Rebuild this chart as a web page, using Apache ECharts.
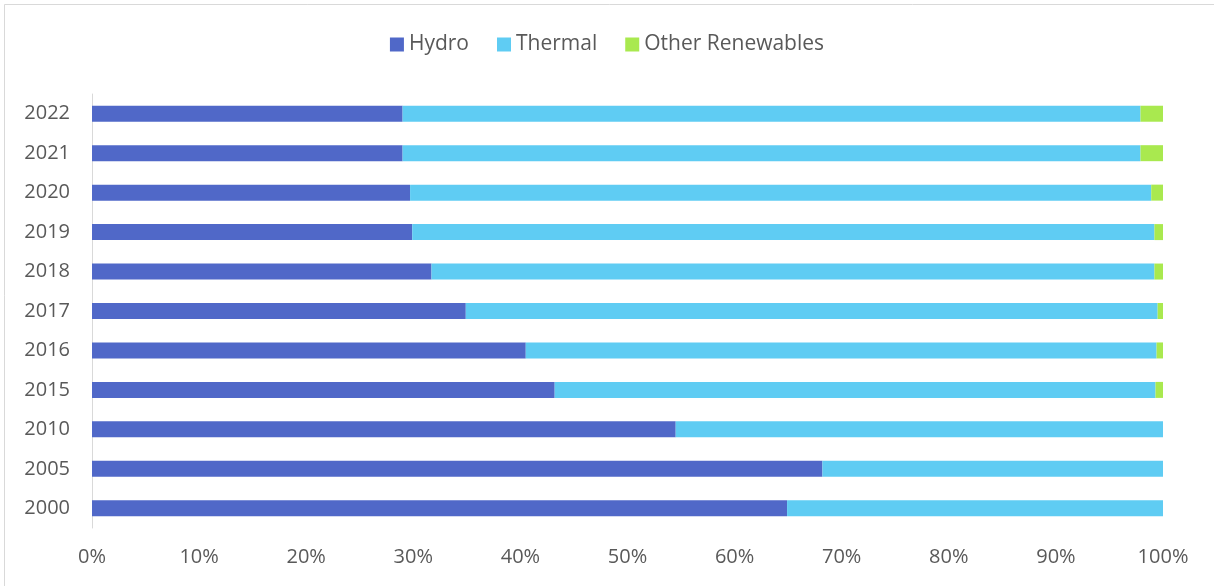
<!DOCTYPE html>
<html>
<head>
<meta charset="utf-8">
<script src="https://cdn.jsdelivr.net/npm/echarts@6/dist/echarts.min.js"></script>
<style>
  html, body { margin: 0; padding: 0; background: #ffffff; }
  #chart { width: 1214px; height: 586px; }
</style>
</head>
<body>
<div id="chart"></div>
<script>
// Share of electricity generation by source (%)
const years = ['2000', '2005', '2010', '2015', '2016', '2017', '2018', '2019', '2020', '2021', '2022'];
const hydro = [64.9, 68.2, 54.5, 43.2, 40.5, 34.9, 31.7, 29.9, 29.7, 29.0, 29.0];
const thermal = [35.1, 31.8, 45.5, 56.1, 58.9, 64.6, 67.5, 69.3, 69.2, 68.9, 68.9];
const otherRenewables = [0, 0, 0, 0.7, 0.6, 0.5, 0.8, 0.8, 1.1, 2.1, 2.1];
const xTicks = [0, 10, 20, 30, 40, 50, 60, 70, 80, 90, 100];

const FONT = '"Open Sans", Lato, sans-serif';
const TEXT = '#595959';

const chart = echarts.init(document.getElementById('chart'), null, { renderer: 'canvas' });

function barSeries(name, data, color) {
  return {
    name: name,
    type: 'bar',
    stack: 'total',
    data: data,
    barWidth: 16,
    itemStyle: { color: color },
    emphasis: { disabled: true }
  };
}

chart.setOption({
  animation: false,
  backgroundColor: '#ffffff',
  graphic: [{
    type: 'rect',
    shape: { x: 4.5, y: 4.5, width: 1300, height: 700 },
    style: { fill: 'none', stroke: '#d9d9d9', lineWidth: 1 },
    silent: true
  }],
  legend: {
    top: 29,
    left: 'center',
    itemWidth: 14,
    itemHeight: 14,
    itemGap: 28,
    icon: 'rect',
    textStyle: { fontFamily: FONT, fontSize: 21, color: TEXT },
    data: ['Hydro', 'Thermal', 'Other Renewables']
  },
  grid: { left: 92, right: 51, top: 94, bottom: 58, containLabel: false },
  xAxis: {
    type: 'value',
    min: xTicks[0],
    max: xTicks[xTicks.length - 1],
    interval: 10,
    axisLine: { show: false },
    axisTick: { show: false },
    splitLine: { show: false },
    axisLabel: {
      margin: 19,
      formatter: v => v + '%',
      fontFamily: FONT, fontSize: 20, color: TEXT
    }
  },
  yAxis: {
    type: 'category',
    data: years,
    axisLine: { show: true, lineStyle: { color: '#d9d9d9', width: 1 } },
    axisTick: { show: false },
    axisLabel: { margin: 22, fontFamily: FONT, fontSize: 20, color: TEXT }
  },
  series: [
    barSeries('Hydro', hydro, '#5068C8'),
    barSeries('Thermal', thermal, '#5FCCF3'),
    barSeries('Other Renewables', otherRenewables, '#A9E94F')
  ]
});
</script>
</body>
</html>
